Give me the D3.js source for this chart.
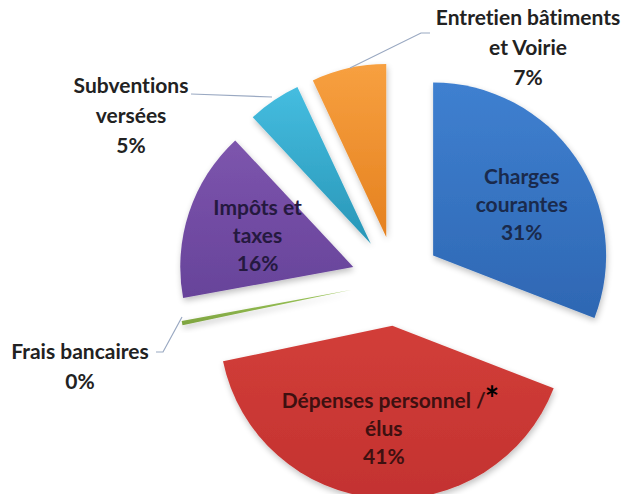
<!DOCTYPE html>
<html>
<head>
<meta charset="utf-8">
<script src="https://cdn.jsdelivr.net/npm/d3@7"></script>
<style>
  html, body { margin: 0; padding: 0; background: #ffffff; }
  svg { display: block; }
  text { font-family: Lato, "Open Sans", sans-serif; font-weight: 700; font-variant-ligatures: none; font-feature-settings: "liga" 0; }
</style>
</head>
<body>
<svg id="chart" width="630" height="494"></svg>
<script>
// ---- data ----
const categories = ["Charges courantes", "Dépenses personnel / élus", "Frais bancaires", "Impôts et taxes", "Subventions versées", "Entretien bâtiments et Voirie"];
const values = [31, 41, 0.4, 16, 5, 7];
const labelLines = [["Charges", "courantes"], ["Dépenses personnel /", "élus"], ["Frais bancaires"], ["Impôts et", "taxes"], ["Subventions", "versées"], ["Entretien bâtiments", "et Voirie"]];
const colorsTop = ["#3f80d0", "#d23e39", "#9cc65a", "#7d55ad", "#45bde0", "#f7a040"];
const colorsBottom = ["#2e67b3", "#c33230", "#7da33f", "#67439a", "#2896b7", "#e5811f"];
const textColors = ["#1a2a4c", "#3e1010", "#222222", "#25193f", "#222222", "#222222"];

// ---- layout ----
const W = 630, H = 494;
const cx = 396, cy = 281, R = 173, explode = 45, labelR = 105;
const fs = 21, lh = 28;
const labelShift = { 0: [2, 8], 1: [0, -2], 3: [4, 2] };

const svg = d3.select("#chart");
const defs = svg.append("defs");

categories.forEach((c, i) => {
  const g = defs.append("linearGradient").attr("id", "grad" + i)
    .attr("x1", 0).attr("y1", 0).attr("x2", 0).attr("y2", 1);
  g.append("stop").attr("offset", "0%").attr("stop-color", colorsTop[i]);
  g.append("stop").attr("offset", "100%").attr("stop-color", colorsBottom[i]);
});

const f = defs.append("filter").attr("id", "shadow")
  .attr("x", "-20%").attr("y", "-20%").attr("width", "140%").attr("height", "140%");
f.append("feGaussianBlur").attr("in", "SourceAlpha").attr("stdDeviation", 3).attr("result", "b");
f.append("feOffset").attr("in", "b").attr("dx", 1).attr("dy", 3).attr("result", "o");
f.append("feComponentTransfer").attr("in", "o").attr("result", "s")
  .append("feFuncA").attr("type", "linear").attr("slope", 0.25);
const m = f.append("feMerge");
m.append("feMergeNode").attr("in", "s");
m.append("feMergeNode").attr("in", "SourceGraphic");

const total = d3.sum(values);
const pct = d3.format(".0%");

const pie = d3.pie().sort(null).value(d => d).startAngle(0).endAngle(2 * Math.PI);
const arcs = pie(values);
const arc = d3.arc().innerRadius(0).outerRadius(R);

function offsetOf(a) {
  const mid = (a.startAngle + a.endAngle) / 2;
  return [cx + explode * Math.sin(mid), cy - explode * Math.cos(mid)];
}

const slices = svg.append("g");
arcs.forEach((a, i) => {
  const [ox, oy] = offsetOf(a);
  slices.append("path")
    .attr("transform", `translate(${ox},${oy})`)
    .attr("d", arc(a))
    .attr("fill", `url(#grad${i})`)
    .attr("filter", "url(#shadow)");
});

// ---- inside labels ----
const insideIdx = [0, 1, 3];
insideIdx.forEach(i => {
  const a = arcs[i];
  const [ox, oy] = offsetOf(a);
  const mid = (a.startAngle + a.endAngle) / 2;
  const sh = labelShift[i] || [0, 0];
  const lx = ox + labelR * Math.sin(mid) + sh[0];
  const ly = oy - labelR * Math.cos(mid) + sh[1];
  const lines = labelLines[i].concat([pct(values[i] / total)]);
  const y0 = ly - (lines.length - 1) * lh / 2;
  const t = svg.append("g");
  lines.forEach((ln, k) => {
    const tx = t.append("text")
      .attr("x", lx).attr("y", y0 + k * lh)
      .attr("dy", "0.35em")
      .attr("text-anchor", "middle")
      .attr("font-size", fs)
      .attr("fill", textColors[i])
      .text(ln);
    if (i === 1 && k === 0) {
      const len = tx.node().getComputedTextLength();
      t.append("text")
        .attr("x", lx + len / 2 - 1).attr("y", y0 + k * lh + 10)
        .attr("font-size", 34)
        .attr("fill", "#000")
        .text("*");
    }
  });
});

// ---- outside labels with leader lines ----
const outside = [
  { i: 5, x: 528, y: 18, line: [[430, 33], [421, 33], [350, 68]] },
  { i: 4, x: 131, y: 86, line: [[191, 94], [272, 97]] },
  { i: 2, x: 80, y: 352, line: [[156, 352], [163, 352], [182, 317]] }
];
outside.forEach(o => {
  svg.append("path")
    .attr("d", d3.line()(o.line))
    .attr("fill", "none")
    .attr("stroke", "#9aa9c2")
    .attr("stroke-width", 1.2);
  const lines = labelLines[o.i].concat([pct(values[o.i] / total)]);
  lines.forEach((ln, k) => {
    svg.append("text")
      .attr("x", o.x).attr("y", o.y + k * 30)
      .attr("dy", "0.35em")
      .attr("text-anchor", "middle")
      .attr("font-size", fs)
      .attr("fill", textColors[o.i])
      .text(ln);
  });
});
</script>
</body>
</html>
